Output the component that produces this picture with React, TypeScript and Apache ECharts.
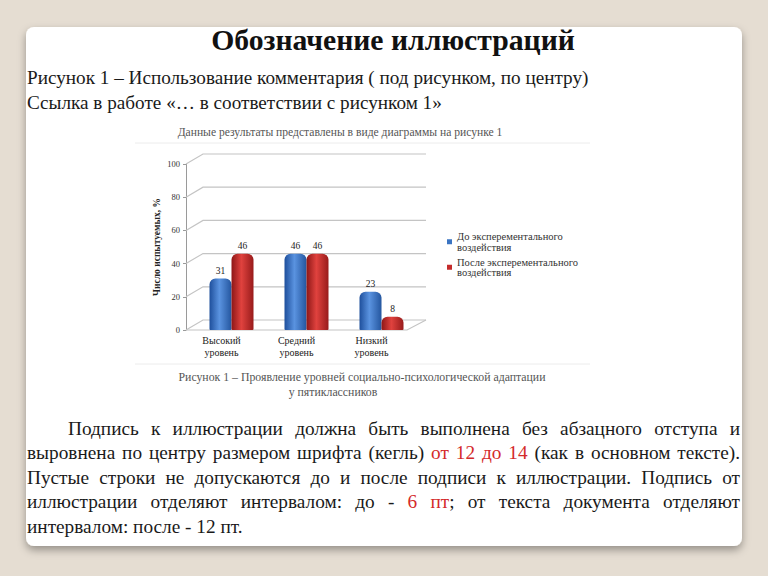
import React, { useEffect, useRef } from "react";
import * as echarts from "echarts";

const categories = ["Высокий\nуровень", "Средний\nуровень", "Низкий\nуровень"];
const seriesNames = ["До эксперементального\nвоздействия", "После эксперементального\nвоздействия"];
const beforeValues = [31, 46, 23];
const afterValues = [46, 46, 8];
const yTicks = [0, 20, 40, 60, 80, 100];
const yAxisName = "Число испытуемых, %";

const pageTitle = "Обозначение иллюстраций";
const headLines = [
  "Рисунок 1 – Использование комментария ( под рисунком, по центру)",
  "Ссылка в работе «… в соответствии с рисунком 1»",
];
const figureIntro = "Данные результаты представлены в виде диаграммы на рисунке 1";
const figureCaption = [
  "Рисунок 1 – Проявление уровней социально-психологической адаптации",
  "у пятиклассников",
];
// "*" = red word, "+" = glued to previous word without a space
const paragraphLines: string[][] = [
  ["Подпись", "к", "иллюстрации", "должна", "быть", "выполнена", "без", "абзацного", "отступа", "и"],
  ["выровнена", "по", "центру", "размером", "шрифта", "(кегль)", "*от", "*12", "*до", "*14", "(как", "в", "основном", "тексте)."],
  ["Пустые", "строки", "не", "допускаются", "до", "и", "после", "подписи", "к", "иллюстрации.", "Подпись", "от"],
  ["иллюстрации", "отделяют", "интервалом:", "до", "-", "*6", "*пт", "+;", "от", "текста", "документа", "отделяют"],
  ["интервалом:", "после", "-", "12", "пт."],
];

const SERIF = '"Liberation Serif", "Times New Roman", serif';

function buildParagraph(): any[] {
  const fontSize = 19.3;
  const canvas = document.createElement("canvas");
  const ctx = canvas.getContext("2d")!;
  ctx.font = `${fontSize}px "Liberation Serif"`;
  const spaceW = ctx.measureText(" ").width;
  const lineY = [428, 452.5, 477, 501.5, 526];
  const out: any[] = [];
  paragraphLines.forEach((tokens, li) => {
    const words: { text: string; red: boolean }[][] = [];
    tokens.forEach((t) => {
      let red = false;
      let glue = false;
      let s = t;
      if (s.startsWith("+")) { glue = true; s = s.slice(1); }
      if (s.startsWith("*")) { red = true; s = s.slice(1); }
      if (glue && words.length) words[words.length - 1].push({ text: s, red });
      else words.push([{ text: s, red }]);
    });
    const left = li === 0 ? 68 : 27;
    const right = 740;
    const widths = words.map((w) => w.reduce((a, seg) => a + ctx.measureText(seg.text).width, 0));
    const total = widths.reduce((a, b) => a + b, 0);
    const justify = li < paragraphLines.length - 1;
    const gap = justify ? (right - left - total) / (words.length - 1) : spaceW;
    let x = left;
    words.forEach((w) => {
      w.forEach((seg) => {
        out.push({
          type: "text",
          x,
          y: lineY[li],
          style: {
            text: seg.text,
            fontSize,
            fontFamily: SERIF,
            fill: seg.red ? "#d42a2a" : "#1a1a1a",
            verticalAlign: "middle",
          },
        });
        x += ctx.measureText(seg.text).width;
      });
      x += gap;
    });
  });
  return out;
}

export default function App() {
  const ref = useRef<HTMLDivElement>(null);
  useEffect(() => {
    const chart = echarts.init(ref.current!, null, { renderer: "svg" });
    const blueGrad = new echarts.graphic.LinearGradient(0, 0, 1, 0, [
      { offset: 0, color: "#1e4f9c" },
      { offset: 0.45, color: "#5a93e0" },
      { offset: 1, color: "#24569f" },
    ]);
    const redGrad = new echarts.graphic.LinearGradient(0, 0, 1, 0, [
      { offset: 0, color: "#8e1717" },
      { offset: 0.45, color: "#e0423e" },
      { offset: 1, color: "#981b1b" },
    ]);
    const labelStyle = {
      show: true,
      position: "top",
      distance: 3,
      fontSize: 9.5,
      fontFamily: SERIF,
      color: "#222",
    };
    const axisOffset = 8;
    const option: any = {
      animation: false,
      backgroundColor: "#e5ddd2",
      graphic: [
        {
          type: "rect",
          z: -10,
          shape: { x: 26, y: 27, width: 716, height: 519, r: 8 },
          style: { fill: "#ffffff", shadowBlur: 8, shadowOffsetY: 4, shadowColor: "rgba(0,0,0,0.35)" },
        },
        {
          type: "text",
          x: 393,
          y: 40,
          style: {
            text: pageTitle,
            fontSize: 29.7,
            fontWeight: "bold",
            fontFamily: SERIF,
            fill: "#111",
            align: "center",
            verticalAlign: "middle",
          },
        },
        ...headLines.map((t, i) => ({
          type: "text",
          x: 27,
          y: 77 + i * 25,
          style: { text: t, fontSize: 19.2, fontFamily: SERIF, fill: "#1a1a1a", verticalAlign: "middle" },
        })),
        {
          type: "text",
          x: 340,
          y: 132,
          style: { text: figureIntro, fontSize: 11.6, fontFamily: SERIF, fill: "#555", align: "center", verticalAlign: "middle" },
        },
        { type: "line", shape: { x1: 135, y1: 143, x2: 590, y2: 143 }, style: { stroke: "#ececec", lineWidth: 1 } },
        { type: "line", shape: { x1: 135, y1: 364, x2: 590, y2: 364 }, style: { stroke: "#ececec", lineWidth: 1 } },
        {
          type: "text",
          x: 362,
          y: 377,
          style: { text: figureCaption[0], fontSize: 11.8, fontFamily: SERIF, fill: "#555", align: "center", verticalAlign: "middle" },
        },
        {
          type: "text",
          x: 333,
          y: 392,
          style: { text: figureCaption[1], fontSize: 11.8, fontFamily: SERIF, fill: "#555", align: "center", verticalAlign: "middle" },
        },
        ...buildParagraph(),
      ],
      legend: {
        orient: "vertical",
        left: 442,
        top: 226,
        itemWidth: 5,
        itemHeight: 5,
        itemGap: 4,
        icon: "rect",
        textStyle: { fontSize: 10.5, lineHeight: 10.5, fontFamily: SERIF, color: "#333" },
        data: [
          { name: seriesNames[0], itemStyle: { color: "#3a74c2" } },
          { name: seriesNames[1], itemStyle: { color: "#c42b2b" } },
        ],
      },
      grid: { left: 194, right: 349, top: 164, bottom: 246 },
      xAxis: {
        type: "category",
        data: categories,
        axisLine: { show: false },
        axisTick: { show: false },
        axisLabel: {
          fontSize: 10,
          lineHeight: 11.5,
          fontFamily: SERIF,
          color: "#222",
          margin: 5,
          padding: [0, 20, 0, 0],
        },
      },
      yAxis: {
        type: "value",
        min: 0,
        max: 100,
        interval: 20,
        offset: axisOffset,
        name: yAxisName,
        nameLocation: "middle",
        nameRotate: 90,
        nameGap: 24,
        nameTextStyle: { fontSize: 9.5, fontWeight: "bold", fontFamily: SERIF, color: "#222" },
        axisLine: { show: true, lineStyle: { color: "#9a9a9a" } },
        axisTick: { show: true, length: 3, lineStyle: { color: "#9a9a9a" } },
        axisLabel: { fontSize: 8.5, fontFamily: SERIF, color: "#333", margin: 6 },
        splitLine: { show: false },
      },
      series: [
        {
          type: "custom",
          coordinateSystem: "cartesian2d",
          silent: true,
          clip: false,
          z: 1,
          data: yTicks.map((v) => [0, v]),
          renderItem: (params: any, api: any) => {
            const cs = params.coordSys;
            const y = api.coord([0, api.value(1)])[1];
            const x0 = cs.x - axisOffset;
            const dx = 17;
            const dy = 10;
            const right = cs.x + cs.width + 7;
            const st = { stroke: "#c4c4c4", lineWidth: 1.2, fill: null };
            const children: any[] = [
              { type: "polyline", shape: { points: [[x0, y], [x0 + dx, y - dy], [right, y - dy]] }, style: st },
            ];
            if (api.value(1) === 0) {
              children.push({
                type: "polyline",
                shape: { points: [[x0, y], [right - 19, y], [right, y - dy]] },
                style: st,
              });
            }
            return { type: "group", children };
          },
        },
        {
          name: seriesNames[0],
          type: "bar",
          z: 3,
          data: beforeValues,
          barWidth: 22,
          barGap: "0%",
          itemStyle: { color: blueGrad, borderRadius: [6, 6, 1, 1] },
          label: labelStyle,
        },
        {
          name: seriesNames[1],
          type: "bar",
          z: 3,
          data: afterValues,
          barWidth: 22,
          barGap: "0%",
          itemStyle: { color: redGrad, borderRadius: [6, 6, 1, 1] },
          label: labelStyle,
        },
      ],
    };
    chart.setOption(option);
    return () => chart.dispose();
  }, []);
  return (
    <div
      ref={ref}
      style={{ position: "fixed", left: 0, top: 0, width: 768, height: 576 }}
    />
  );
}
